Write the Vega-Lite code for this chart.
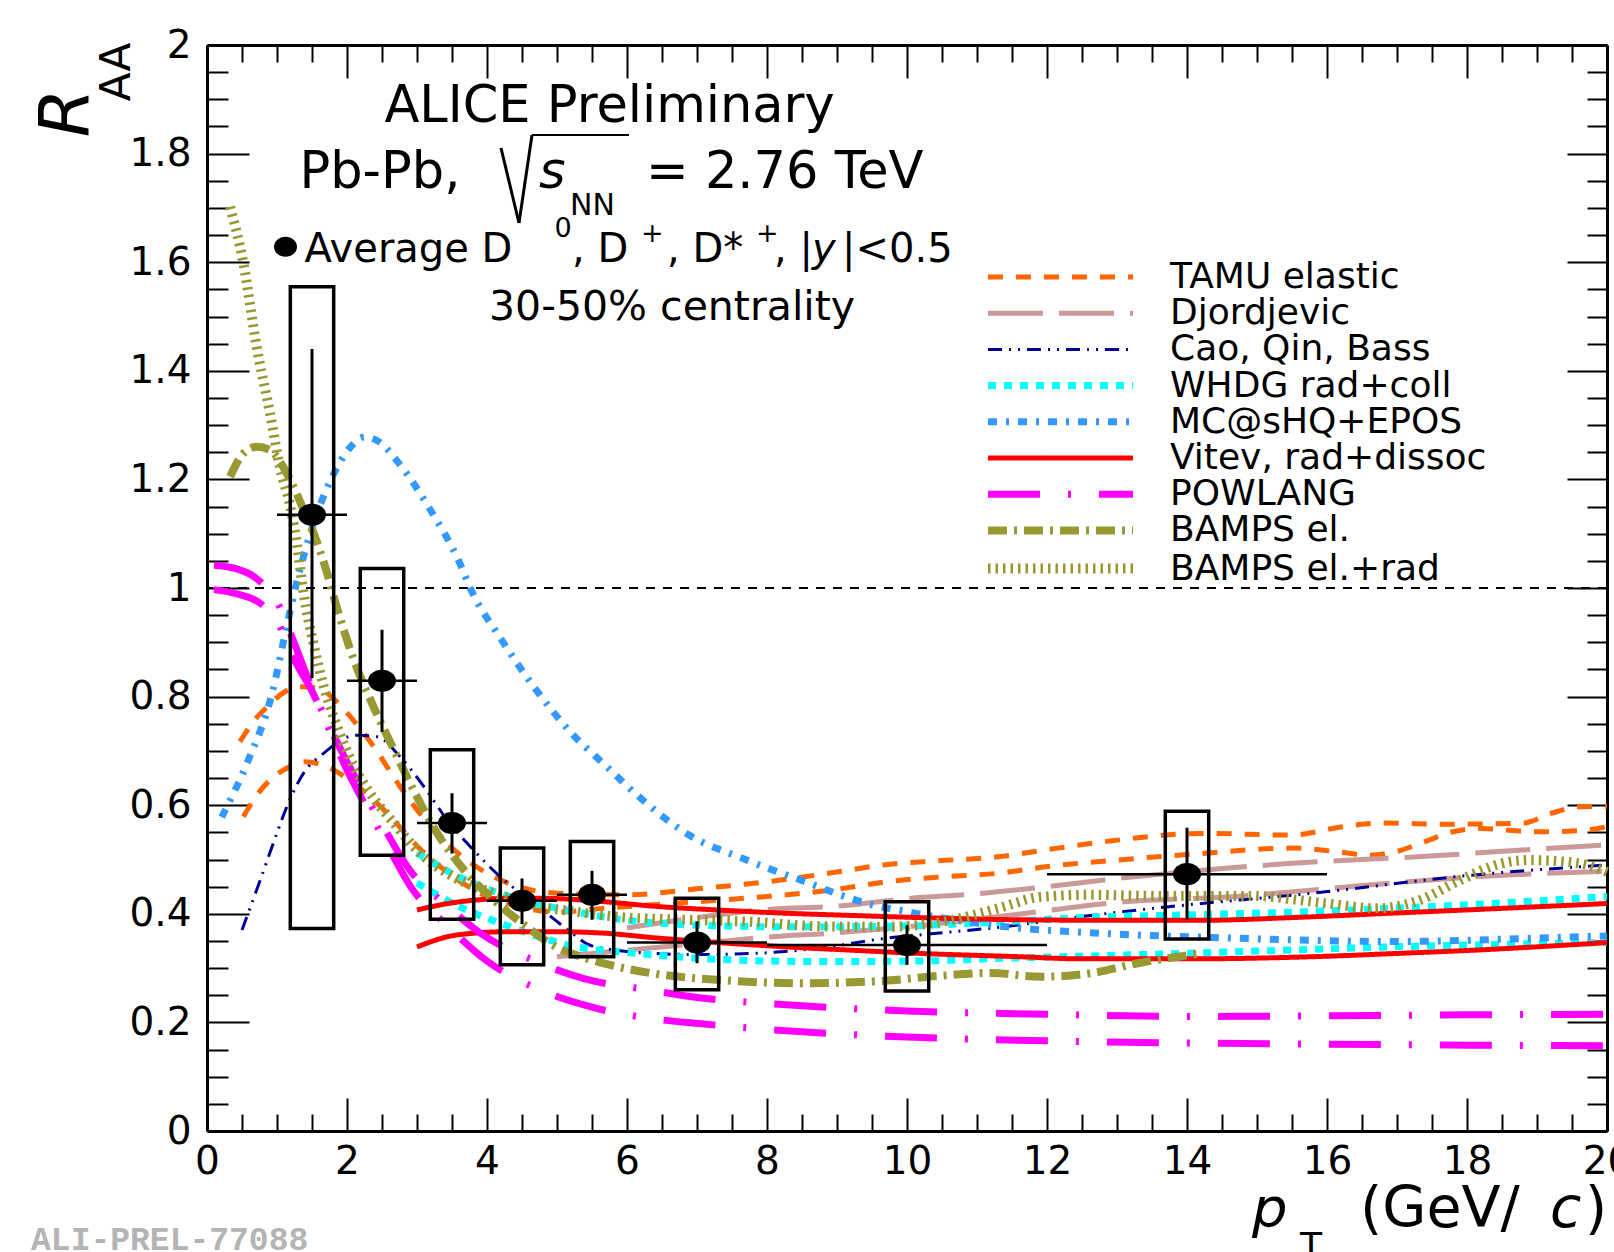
{
  "$schema": "https://vega.github.io/schema/vega-lite/v6.json",
  "width": 1400,
  "height": 1086,
  "autosize": {"type": "none"},
  "padding": {"left": 207, "top": 45, "right": 7, "bottom": 121},
  "background": "white",
  "config": {"view": {"stroke": null}, "font": "DejaVu Sans"},
  "resolve": {"axis": {"x": "independent", "y": "independent"}},
  "datasets": {
    "curves": [
      {"m":"TAMU elastic","c":"u","x":0.47,"y":0.717},{"m":"TAMU elastic","c":"u","x":0.7,"y":0.76},{"m":"TAMU elastic","c":"u","x":0.86,"y":0.781},{"m":"TAMU elastic","c":"u","x":1.1,"y":0.808},{"m":"TAMU elastic","c":"u","x":1.3,"y":0.818},{"m":"TAMU elastic","c":"u","x":1.57,"y":0.816},{"m":"TAMU elastic","c":"u","x":1.8,"y":0.797},{"m":"TAMU elastic","c":"u","x":2.0,"y":0.77},{"m":"TAMU elastic","c":"u","x":2.38,"y":0.708},{"m":"TAMU elastic","c":"u","x":2.76,"y":0.634},{"m":"TAMU elastic","c":"u","x":3.24,"y":0.554},{"m":"TAMU elastic","c":"u","x":3.71,"y":0.499},{"m":"TAMU elastic","c":"u","x":4.29,"y":0.457},{"m":"TAMU elastic","c":"u","x":5.0,"y":0.438},{"m":"TAMU elastic","c":"u","x":6.0,"y":0.435},{"m":"TAMU elastic","c":"u","x":7.0,"y":0.446},{"m":"TAMU elastic","c":"u","x":8.0,"y":0.459},{"m":"TAMU elastic","c":"u","x":9.0,"y":0.477},{"m":"TAMU elastic","c":"u","x":9.66,"y":0.49},{"m":"TAMU elastic","c":"u","x":10.5,"y":0.498},{"m":"TAMU elastic","c":"u","x":11.3,"y":0.505},{"m":"TAMU elastic","c":"u","x":12.1,"y":0.52},{"m":"TAMU elastic","c":"u","x":12.9,"y":0.534},{"m":"TAMU elastic","c":"u","x":14.2,"y":0.548},{"m":"TAMU elastic","c":"u","x":15.5,"y":0.545},{"m":"TAMU elastic","c":"u","x":16.2,"y":0.56},{"m":"TAMU elastic","c":"u","x":16.8,"y":0.567},{"m":"TAMU elastic","c":"u","x":17.7,"y":0.565},{"m":"TAMU elastic","c":"u","x":18.8,"y":0.567},{"m":"TAMU elastic","c":"u","x":19.2,"y":0.585},{"m":"TAMU elastic","c":"u","x":19.6,"y":0.597},{"m":"TAMU elastic","c":"u","x":20,"y":0.598},
      {"m":"TAMU elastic","c":"l","x":0.52,"y":0.579},{"m":"TAMU elastic","c":"l","x":0.75,"y":0.625},{"m":"TAMU elastic","c":"l","x":0.95,"y":0.652},{"m":"TAMU elastic","c":"l","x":1.2,"y":0.672},{"m":"TAMU elastic","c":"l","x":1.4,"y":0.68},{"m":"TAMU elastic","c":"l","x":1.6,"y":0.676},{"m":"TAMU elastic","c":"l","x":1.81,"y":0.665},{"m":"TAMU elastic","c":"l","x":2.1,"y":0.64},{"m":"TAMU elastic","c":"l","x":2.5,"y":0.595},{"m":"TAMU elastic","c":"l","x":3.0,"y":0.525},{"m":"TAMU elastic","c":"l","x":3.5,"y":0.47},{"m":"TAMU elastic","c":"l","x":4.0,"y":0.432},{"m":"TAMU elastic","c":"l","x":4.5,"y":0.412},{"m":"TAMU elastic","c":"l","x":5.0,"y":0.403},{"m":"TAMU elastic","c":"l","x":5.66,"y":0.41},{"m":"TAMU elastic","c":"l","x":6.5,"y":0.418},{"m":"TAMU elastic","c":"l","x":7.3,"y":0.425},{"m":"TAMU elastic","c":"l","x":8.1,"y":0.433},{"m":"TAMU elastic","c":"l","x":9.0,"y":0.445},{"m":"TAMU elastic","c":"l","x":9.7,"y":0.459},{"m":"TAMU elastic","c":"l","x":10.5,"y":0.468},{"m":"TAMU elastic","c":"l","x":11.33,"y":0.475},{"m":"TAMU elastic","c":"l","x":12.0,"y":0.487},{"m":"TAMU elastic","c":"l","x":13.0,"y":0.499},{"m":"TAMU elastic","c":"l","x":14.2,"y":0.511},{"m":"TAMU elastic","c":"l","x":15.5,"y":0.521},{"m":"TAMU elastic","c":"l","x":16.1,"y":0.515},{"m":"TAMU elastic","c":"l","x":16.6,"y":0.508},{"m":"TAMU elastic","c":"l","x":17.0,"y":0.515},{"m":"TAMU elastic","c":"l","x":17.4,"y":0.533},{"m":"TAMU elastic","c":"l","x":17.8,"y":0.551},{"m":"TAMU elastic","c":"l","x":18.2,"y":0.557},{"m":"TAMU elastic","c":"l","x":19.0,"y":0.551},{"m":"TAMU elastic","c":"l","x":19.6,"y":0.553},{"m":"TAMU elastic","c":"l","x":20,"y":0.56},
      {"m":"Djordjevic","c":"u","x":6.0,"y":0.374},{"m":"Djordjevic","c":"u","x":7.0,"y":0.393},{"m":"Djordjevic","c":"u","x":8.0,"y":0.408},{"m":"Djordjevic","c":"u","x":9.0,"y":0.414},{"m":"Djordjevic","c":"u","x":10.0,"y":0.428},{"m":"Djordjevic","c":"u","x":11.0,"y":0.437},{"m":"Djordjevic","c":"u","x":12.0,"y":0.45},{"m":"Djordjevic","c":"u","x":13.0,"y":0.465},{"m":"Djordjevic","c":"u","x":14.3,"y":0.481},{"m":"Djordjevic","c":"u","x":15.5,"y":0.493},{"m":"Djordjevic","c":"u","x":17.3,"y":0.505},{"m":"Djordjevic","c":"u","x":18.5,"y":0.515},{"m":"Djordjevic","c":"u","x":20,"y":0.527},
      {"m":"Djordjevic","c":"l","x":5.0,"y":0.321},{"m":"Djordjevic","c":"l","x":6.0,"y":0.333},{"m":"Djordjevic","c":"l","x":7.0,"y":0.345},{"m":"Djordjevic","c":"l","x":8.0,"y":0.357},{"m":"Djordjevic","c":"l","x":9.0,"y":0.365},{"m":"Djordjevic","c":"l","x":10.0,"y":0.376},{"m":"Djordjevic","c":"l","x":11.5,"y":0.398},{"m":"Djordjevic","c":"l","x":13.1,"y":0.422},{"m":"Djordjevic","c":"l","x":14.7,"y":0.432},{"m":"Djordjevic","c":"l","x":16.5,"y":0.452},{"m":"Djordjevic","c":"l","x":18.5,"y":0.471},{"m":"Djordjevic","c":"l","x":20,"y":0.478},
      {"m":"Cao, Qin, Bass","c":"u","x":0.5,"y":0.37},{"m":"Cao, Qin, Bass","c":"u","x":0.76,"y":0.462},{"m":"Cao, Qin, Bass","c":"u","x":1.0,"y":0.549},{"m":"Cao, Qin, Bass","c":"u","x":1.14,"y":0.597},{"m":"Cao, Qin, Bass","c":"u","x":1.38,"y":0.659},{"m":"Cao, Qin, Bass","c":"u","x":1.67,"y":0.696},{"m":"Cao, Qin, Bass","c":"u","x":2.14,"y":0.729},{"m":"Cao, Qin, Bass","c":"u","x":2.43,"y":0.726},{"m":"Cao, Qin, Bass","c":"u","x":2.76,"y":0.689},{"m":"Cao, Qin, Bass","c":"u","x":3.1,"y":0.634},{"m":"Cao, Qin, Bass","c":"u","x":3.43,"y":0.573},{"m":"Cao, Qin, Bass","c":"u","x":3.81,"y":0.517},{"m":"Cao, Qin, Bass","c":"u","x":4.19,"y":0.468},{"m":"Cao, Qin, Bass","c":"u","x":4.67,"y":0.42},{"m":"Cao, Qin, Bass","c":"u","x":5.14,"y":0.372},{"m":"Cao, Qin, Bass","c":"u","x":5.5,"y":0.341},{"m":"Cao, Qin, Bass","c":"u","x":6.38,"y":0.327},{"m":"Cao, Qin, Bass","c":"u","x":7.0,"y":0.325},{"m":"Cao, Qin, Bass","c":"u","x":7.8,"y":0.327},{"m":"Cao, Qin, Bass","c":"u","x":8.76,"y":0.337},{"m":"Cao, Qin, Bass","c":"u","x":9.7,"y":0.355},{"m":"Cao, Qin, Bass","c":"u","x":10.42,"y":0.364},{"m":"Cao, Qin, Bass","c":"u","x":11.37,"y":0.376},{"m":"Cao, Qin, Bass","c":"u","x":12.5,"y":0.395},{"m":"Cao, Qin, Bass","c":"u","x":13.74,"y":0.413},{"m":"Cao, Qin, Bass","c":"u","x":15.8,"y":0.438},{"m":"Cao, Qin, Bass","c":"u","x":18.05,"y":0.471},{"m":"Cao, Qin, Bass","c":"u","x":20,"y":0.49},
      {"m":"WHDG rad+coll","c":"u","x":3.0,"y":0.512},{"m":"WHDG rad+coll","c":"u","x":3.33,"y":0.486},{"m":"WHDG rad+coll","c":"u","x":3.7,"y":0.462},{"m":"WHDG rad+coll","c":"u","x":4.04,"y":0.444},{"m":"WHDG rad+coll","c":"u","x":4.5,"y":0.425},{"m":"WHDG rad+coll","c":"u","x":5.3,"y":0.403},{"m":"WHDG rad+coll","c":"u","x":6.0,"y":0.388},{"m":"WHDG rad+coll","c":"u","x":6.85,"y":0.38},{"m":"WHDG rad+coll","c":"u","x":8.28,"y":0.376},{"m":"WHDG rad+coll","c":"u","x":9.7,"y":0.377},{"m":"WHDG rad+coll","c":"u","x":11.35,"y":0.385},{"m":"WHDG rad+coll","c":"u","x":12.5,"y":0.393},{"m":"WHDG rad+coll","c":"u","x":14.0,"y":0.398},{"m":"WHDG rad+coll","c":"u","x":15.5,"y":0.403},{"m":"WHDG rad+coll","c":"u","x":16.9,"y":0.41},{"m":"WHDG rad+coll","c":"u","x":18.5,"y":0.42},{"m":"WHDG rad+coll","c":"u","x":20,"y":0.432},
      {"m":"WHDG rad+coll","c":"l","x":3.0,"y":0.457},{"m":"WHDG rad+coll","c":"l","x":3.61,"y":0.413},{"m":"WHDG rad+coll","c":"l","x":4.29,"y":0.378},{"m":"WHDG rad+coll","c":"l","x":4.8,"y":0.355},{"m":"WHDG rad+coll","c":"l","x":5.33,"y":0.338},{"m":"WHDG rad+coll","c":"l","x":5.9,"y":0.33},{"m":"WHDG rad+coll","c":"l","x":7.33,"y":0.316},{"m":"WHDG rad+coll","c":"l","x":8.76,"y":0.312},{"m":"WHDG rad+coll","c":"l","x":10.19,"y":0.313},{"m":"WHDG rad+coll","c":"l","x":11.35,"y":0.318},{"m":"WHDG rad+coll","c":"l","x":12.5,"y":0.322},{"m":"WHDG rad+coll","c":"l","x":14.7,"y":0.33},{"m":"WHDG rad+coll","c":"l","x":16.9,"y":0.339},{"m":"WHDG rad+coll","c":"l","x":20,"y":0.347},
      {"m":"MC@sHQ+EPOS","c":"u","x":0.21,"y":0.578},{"m":"MC@sHQ+EPOS","c":"u","x":0.57,"y":0.677},{"m":"MC@sHQ+EPOS","c":"u","x":0.93,"y":0.806},{"m":"MC@sHQ+EPOS","c":"u","x":1.14,"y":0.93},{"m":"MC@sHQ+EPOS","c":"u","x":1.3,"y":1.02},{"m":"MC@sHQ+EPOS","c":"u","x":1.5,"y":1.11},{"m":"MC@sHQ+EPOS","c":"u","x":1.79,"y":1.205},{"m":"MC@sHQ+EPOS","c":"u","x":2.04,"y":1.258},{"m":"MC@sHQ+EPOS","c":"u","x":2.25,"y":1.278},{"m":"MC@sHQ+EPOS","c":"u","x":2.45,"y":1.27},{"m":"MC@sHQ+EPOS","c":"u","x":2.74,"y":1.23},{"m":"MC@sHQ+EPOS","c":"u","x":3.19,"y":1.144},{"m":"MC@sHQ+EPOS","c":"u","x":3.61,"y":1.046},{"m":"MC@sHQ+EPOS","c":"u","x":3.76,"y":1.0},{"m":"MC@sHQ+EPOS","c":"u","x":4.19,"y":0.908},{"m":"MC@sHQ+EPOS","c":"u","x":4.67,"y":0.818},{"m":"MC@sHQ+EPOS","c":"u","x":5.19,"y":0.735},{"m":"MC@sHQ+EPOS","c":"u","x":5.71,"y":0.671},{"m":"MC@sHQ+EPOS","c":"u","x":6.14,"y":0.619},{"m":"MC@sHQ+EPOS","c":"u","x":6.85,"y":0.548},{"m":"MC@sHQ+EPOS","c":"u","x":7.71,"y":0.499},{"m":"MC@sHQ+EPOS","c":"u","x":8.61,"y":0.456},{"m":"MC@sHQ+EPOS","c":"u","x":9.04,"y":0.435},{"m":"MC@sHQ+EPOS","c":"u","x":9.52,"y":0.416},{"m":"MC@sHQ+EPOS","c":"u","x":10.0,"y":0.404},{"m":"MC@sHQ+EPOS","c":"u","x":10.66,"y":0.389},{"m":"MC@sHQ+EPOS","c":"u","x":11.42,"y":0.376},{"m":"MC@sHQ+EPOS","c":"u","x":12.5,"y":0.366},{"m":"MC@sHQ+EPOS","c":"u","x":14.7,"y":0.355},{"m":"MC@sHQ+EPOS","c":"u","x":16.9,"y":0.349},{"m":"MC@sHQ+EPOS","c":"u","x":19.7,"y":0.358},{"m":"MC@sHQ+EPOS","c":"u","x":20,"y":0.359},
      {"m":"Vitev, rad+dissoc","c":"u","x":3.0,"y":0.407},{"m":"Vitev, rad+dissoc","c":"u","x":3.4,"y":0.418},{"m":"Vitev, rad+dissoc","c":"u","x":3.81,"y":0.425},{"m":"Vitev, rad+dissoc","c":"u","x":4.47,"y":0.429},{"m":"Vitev, rad+dissoc","c":"u","x":5.0,"y":0.428},{"m":"Vitev, rad+dissoc","c":"u","x":5.7,"y":0.422},{"m":"Vitev, rad+dissoc","c":"u","x":6.38,"y":0.414},{"m":"Vitev, rad+dissoc","c":"u","x":7.3,"y":0.407},{"m":"Vitev, rad+dissoc","c":"u","x":8.28,"y":0.401},{"m":"Vitev, rad+dissoc","c":"u","x":9.2,"y":0.397},{"m":"Vitev, rad+dissoc","c":"u","x":10.19,"y":0.393},{"m":"Vitev, rad+dissoc","c":"u","x":11.6,"y":0.389},{"m":"Vitev, rad+dissoc","c":"u","x":13.0,"y":0.388},{"m":"Vitev, rad+dissoc","c":"u","x":14.2,"y":0.388},{"m":"Vitev, rad+dissoc","c":"u","x":15.5,"y":0.393},{"m":"Vitev, rad+dissoc","c":"u","x":16.9,"y":0.401},{"m":"Vitev, rad+dissoc","c":"u","x":18.5,"y":0.41},{"m":"Vitev, rad+dissoc","c":"u","x":20,"y":0.419},
      {"m":"Vitev, rad+dissoc","c":"l","x":3.0,"y":0.339},{"m":"Vitev, rad+dissoc","c":"l","x":3.57,"y":0.361},{"m":"Vitev, rad+dissoc","c":"l","x":4.29,"y":0.367},{"m":"Vitev, rad+dissoc","c":"l","x":5.0,"y":0.367},{"m":"Vitev, rad+dissoc","c":"l","x":5.71,"y":0.364},{"m":"Vitev, rad+dissoc","c":"l","x":6.38,"y":0.356},{"m":"Vitev, rad+dissoc","c":"l","x":7.3,"y":0.347},{"m":"Vitev, rad+dissoc","c":"l","x":8.28,"y":0.339},{"m":"Vitev, rad+dissoc","c":"l","x":9.2,"y":0.333},{"m":"Vitev, rad+dissoc","c":"l","x":10.19,"y":0.327},{"m":"Vitev, rad+dissoc","c":"l","x":11.6,"y":0.321},{"m":"Vitev, rad+dissoc","c":"l","x":12.5,"y":0.317},{"m":"Vitev, rad+dissoc","c":"l","x":14.0,"y":0.317},{"m":"Vitev, rad+dissoc","c":"l","x":15.8,"y":0.321},{"m":"Vitev, rad+dissoc","c":"l","x":17.0,"y":0.327},{"m":"Vitev, rad+dissoc","c":"l","x":18.1,"y":0.333},{"m":"Vitev, rad+dissoc","c":"l","x":20,"y":0.347},
      {"m":"POWLANG","c":"u","x":0.1,"y":1.042},{"m":"POWLANG","c":"u","x":0.4,"y":1.036},{"m":"POWLANG","c":"u","x":0.76,"y":1.012},{"m":"POWLANG","c":"u","x":1.0,"y":0.975},{"m":"POWLANG","c":"u","x":1.15,"y":0.93},{"m":"POWLANG","c":"u","x":1.5,"y":0.815},{"m":"POWLANG","c":"u","x":2.0,"y":0.68},{"m":"POWLANG","c":"u","x":2.5,"y":0.565},{"m":"POWLANG","c":"u","x":2.9,"y":0.48},{"m":"POWLANG","c":"u","x":3.4,"y":0.418},{"m":"POWLANG","c":"u","x":3.9,"y":0.365},{"m":"POWLANG","c":"u","x":4.65,"y":0.315},{"m":"POWLANG","c":"u","x":5.4,"y":0.28},{"m":"POWLANG","c":"u","x":6.3,"y":0.26},{"m":"POWLANG","c":"u","x":7.0,"y":0.246},{"m":"POWLANG","c":"u","x":8.0,"y":0.235},{"m":"POWLANG","c":"u","x":9.0,"y":0.227},{"m":"POWLANG","c":"u","x":10.0,"y":0.221},{"m":"POWLANG","c":"u","x":12.0,"y":0.215},{"m":"POWLANG","c":"u","x":14.0,"y":0.211},{"m":"POWLANG","c":"u","x":16.0,"y":0.212},{"m":"POWLANG","c":"u","x":18.0,"y":0.214},{"m":"POWLANG","c":"u","x":20,"y":0.215},
      {"m":"POWLANG","c":"l","x":0.1,"y":0.997},{"m":"POWLANG","c":"l","x":0.4,"y":0.99},{"m":"POWLANG","c":"l","x":0.79,"y":0.969},{"m":"POWLANG","c":"l","x":1.0,"y":0.94},{"m":"POWLANG","c":"l","x":1.2,"y":0.88},{"m":"POWLANG","c":"l","x":1.5,"y":0.81},{"m":"POWLANG","c":"l","x":2.0,"y":0.665},{"m":"POWLANG","c":"l","x":2.5,"y":0.545},{"m":"POWLANG","c":"l","x":2.93,"y":0.446},{"m":"POWLANG","c":"l","x":3.45,"y":0.376},{"m":"POWLANG","c":"l","x":4.0,"y":0.313},{"m":"POWLANG","c":"l","x":4.7,"y":0.263},{"m":"POWLANG","c":"l","x":5.5,"y":0.228},{"m":"POWLANG","c":"l","x":6.3,"y":0.208},{"m":"POWLANG","c":"l","x":7.1,"y":0.197},{"m":"POWLANG","c":"l","x":8.0,"y":0.187},{"m":"POWLANG","c":"l","x":9.0,"y":0.179},{"m":"POWLANG","c":"l","x":10.0,"y":0.173},{"m":"POWLANG","c":"l","x":11.0,"y":0.169},{"m":"POWLANG","c":"l","x":12.0,"y":0.166},{"m":"POWLANG","c":"l","x":14.0,"y":0.162},{"m":"POWLANG","c":"l","x":16.0,"y":0.16},{"m":"POWLANG","c":"l","x":18.0,"y":0.158},{"m":"POWLANG","c":"l","x":20,"y":0.157},
      {"m":"BAMPS el.","c":"u","x":0.33,"y":1.205},{"m":"BAMPS el.","c":"u","x":0.52,"y":1.248},{"m":"BAMPS el.","c":"u","x":0.71,"y":1.26},{"m":"BAMPS el.","c":"u","x":0.9,"y":1.254},{"m":"BAMPS el.","c":"u","x":1.14,"y":1.211},{"m":"BAMPS el.","c":"u","x":1.38,"y":1.144},{"m":"BAMPS el.","c":"u","x":1.57,"y":1.085},{"m":"BAMPS el.","c":"u","x":1.71,"y":1.03},{"m":"BAMPS el.","c":"u","x":1.86,"y":0.962},{"m":"BAMPS el.","c":"u","x":2.1,"y":0.867},{"m":"BAMPS el.","c":"u","x":2.38,"y":0.781},{"m":"BAMPS el.","c":"u","x":2.67,"y":0.702},{"m":"BAMPS el.","c":"u","x":2.95,"y":0.628},{"m":"BAMPS el.","c":"u","x":3.29,"y":0.548},{"m":"BAMPS el.","c":"u","x":3.67,"y":0.481},{"m":"BAMPS el.","c":"u","x":4.1,"y":0.425},{"m":"BAMPS el.","c":"u","x":4.57,"y":0.376},{"m":"BAMPS el.","c":"u","x":5.0,"y":0.338},{"m":"BAMPS el.","c":"u","x":5.42,"y":0.318},{"m":"BAMPS el.","c":"u","x":6.38,"y":0.29},{"m":"BAMPS el.","c":"u","x":7.33,"y":0.278},{"m":"BAMPS el.","c":"u","x":8.52,"y":0.272},{"m":"BAMPS el.","c":"u","x":9.71,"y":0.277},{"m":"BAMPS el.","c":"u","x":10.5,"y":0.286},{"m":"BAMPS el.","c":"u","x":11.2,"y":0.291},{"m":"BAMPS el.","c":"u","x":11.9,"y":0.284},{"m":"BAMPS el.","c":"u","x":12.6,"y":0.29},{"m":"BAMPS el.","c":"u","x":13.3,"y":0.309},{"m":"BAMPS el.","c":"u","x":14.2,"y":0.327},
      {"m":"BAMPS el.+rad","c":"u","x":0.33,"y":1.702},{"m":"BAMPS el.+rad","c":"u","x":0.52,"y":1.598},{"m":"BAMPS el.+rad","c":"u","x":0.71,"y":1.444},{"m":"BAMPS el.+rad","c":"u","x":0.9,"y":1.322},{"m":"BAMPS el.+rad","c":"u","x":1.04,"y":1.223},{"m":"BAMPS el.+rad","c":"u","x":1.19,"y":1.15},{"m":"BAMPS el.+rad","c":"u","x":1.29,"y":1.076},{"m":"BAMPS el.+rad","c":"u","x":1.38,"y":0.99},{"m":"BAMPS el.+rad","c":"u","x":1.52,"y":0.898},{"m":"BAMPS el.+rad","c":"u","x":1.67,"y":0.818},{"m":"BAMPS el.+rad","c":"u","x":1.86,"y":0.745},{"m":"BAMPS el.+rad","c":"u","x":2.1,"y":0.671},{"m":"BAMPS el.+rad","c":"u","x":2.33,"y":0.622},{"m":"BAMPS el.+rad","c":"u","x":2.67,"y":0.567},{"m":"BAMPS el.+rad","c":"u","x":3.05,"y":0.511},{"m":"BAMPS el.+rad","c":"u","x":3.52,"y":0.468},{"m":"BAMPS el.+rad","c":"u","x":4.1,"y":0.438},{"m":"BAMPS el.+rad","c":"u","x":4.76,"y":0.413},{"m":"BAMPS el.+rad","c":"u","x":5.2,"y":0.405},{"m":"BAMPS el.+rad","c":"u","x":5.9,"y":0.394},{"m":"BAMPS el.+rad","c":"u","x":6.85,"y":0.389},{"m":"BAMPS el.+rad","c":"u","x":7.8,"y":0.385},{"m":"BAMPS el.+rad","c":"u","x":8.76,"y":0.377},{"m":"BAMPS el.+rad","c":"u","x":9.7,"y":0.376},{"m":"BAMPS el.+rad","c":"u","x":10.66,"y":0.389},{"m":"BAMPS el.+rad","c":"u","x":11.3,"y":0.41},{"m":"BAMPS el.+rad","c":"u","x":11.9,"y":0.431},{"m":"BAMPS el.+rad","c":"u","x":12.6,"y":0.435},{"m":"BAMPS el.+rad","c":"u","x":13.5,"y":0.433},{"m":"BAMPS el.+rad","c":"u","x":14.9,"y":0.433},{"m":"BAMPS el.+rad","c":"u","x":16.0,"y":0.419},{"m":"BAMPS el.+rad","c":"u","x":16.7,"y":0.41},{"m":"BAMPS el.+rad","c":"u","x":17.3,"y":0.424},{"m":"BAMPS el.+rad","c":"u","x":17.9,"y":0.462},{"m":"BAMPS el.+rad","c":"u","x":18.5,"y":0.493},{"m":"BAMPS el.+rad","c":"u","x":18.9,"y":0.499},{"m":"BAMPS el.+rad","c":"u","x":19.6,"y":0.493},{"m":"BAMPS el.+rad","c":"u","x":20,"y":0.477}
    ],
    "points": [
      {"x":1.5,"y":1.135,"xl":1,"xh":2,"sl":0.834,"sh":1.44,"bl":0.373,"bh":1.555,"bxl":1.19,"bxh":1.81},
      {"x":2.5,"y":0.829,"xl":2,"xh":3,"sl":0.735,"sh":0.923,"bl":0.508,"bh":1.036,"bxl":2.19,"bxh":2.81},
      {"x":3.5,"y":0.567,"xl":3,"xh":4,"sl":0.511,"sh":0.622,"bl":0.39,"bh":0.702,"bxl":3.19,"bxh":3.81},
      {"x":4.5,"y":0.424,"xl":4,"xh":5,"sl":0.381,"sh":0.465,"bl":0.306,"bh":0.521,"bxl":4.19,"bxh":4.81},
      {"x":5.5,"y":0.435,"xl":5,"xh":6,"sl":0.389,"sh":0.479,"bl":0.321,"bh":0.533,"bxl":5.19,"bxh":5.81},
      {"x":7,"y":0.347,"xl":6,"xh":8,"sl":0.309,"sh":0.386,"bl":0.26,"bh":0.4285,"bxl":6.69,"bxh":7.31},
      {"x":10,"y":0.3425,"xl":8,"xh":12,"sl":0.306,"sh":0.379,"bl":0.258,"bh":0.4223,"bxl":9.69,"bxh":10.31},
      {"x":14,"y":0.473,"xl":12,"xh":16,"sl":0.389,"sh":0.5586,"bl":0.3536,"bh":0.589,"bxl":13.69,"bxh":14.31}
    ]
  },
  "layer": [
    {
      "data": {"values": [{}]},
      "mark": {"type": "rule", "color": "black", "strokeWidth": 2, "strokeDash": [9, 8]},
      "encoding": {"y": {"datum": 1, "type": "quantitative", "scale": {"domain": [0, 2], "nice": false, "zero": false}, "axis": null}}
    },
    {
      "data": {"name": "curves"},
      "mark": {"type": "line", "interpolate": "monotone", "strokeCap": "butt"},
      "encoding": {
        "x": {"field": "x", "type": "quantitative", "scale": {"domain": [0, 20], "nice": false, "zero": false},
              "axis": {"orient": "bottom", "values": [0,2,4,6,8,10,12,14,16,18,20], "format": "d", "tickSize": -33, "tickWidth": 2, "tickColor": "black", "domain": true, "domainColor": "black", "domainWidth": 3, "labels": true, "labelFont": "DejaVu Sans", "labelFontSize": 39, "labelColor": "black", "labelPadding": 44, "labelFlush": false, "labelOverlap": false, "grid": false, "title": null}},
        "y": {"field": "y", "type": "quantitative", "scale": {"domain": [0, 2], "nice": false, "zero": false},
              "axis": {"orient": "left", "values": [0,0.2,0.4,0.6,0.8,1,1.2,1.4,1.6,1.8,2], "format": "~g", "tickSize": -42, "tickWidth": 2, "tickColor": "black", "domain": true, "domainColor": "black", "domainWidth": 3, "labels": true, "labelFont": "DejaVu Sans", "labelFontSize": 39, "labelColor": "black", "labelPadding": 58, "labelOverlap": false, "grid": false, "title": null}},
        "color": {"field": "m", "type": "nominal",
                  "scale": {"domain": ["TAMU elastic","Djordjevic","Cao, Qin, Bass","WHDG rad+coll","MC@sHQ+EPOS","Vitev, rad+dissoc","POWLANG","BAMPS el.","BAMPS el.+rad"],
                            "range": ["#ff6600","#cc9999","#000099","#00ffff","#3399ff","#ff0000","#ff00ff","#999933","#999933"]},
                  "legend": {"title": null, "orient": "none", "legendX": 835.5, "legendY": 214, "symbolType": "M-5.577,0H5.577", "symbolSize": 676,
                             "symbolStrokeWidth": {"expr": "datum.value === 'Cao, Qin, Bass' ? 3 : datum.value === 'WHDG rad+coll' ? 7 : datum.value === 'MC@sHQ+EPOS' ? 7 : datum.value === 'POWLANG' ? 7 : datum.value === 'BAMPS el.' ? 8 : datum.value === 'BAMPS el.+rad' ? 10 : 5"},
                             "labelFont": "DejaVu Sans", "labelFontSize": 36, "labelColor": "black", "labelOffset": 91.5, "labelLimit": 0, "rowPadding": 0.2, "padding": 0}},
        "strokeDash": {"field": "m", "type": "nominal",
                       "scale": {"domain": ["TAMU elastic","Djordjevic","Cao, Qin, Bass","WHDG rad+coll","MC@sHQ+EPOS","Vitev, rad+dissoc","POWLANG","BAMPS el.","BAMPS el.+rad"],
                                 "range": [[15,13],[55,16],[14,7,2,7,2,7],[8,8],[9,9,3,9],[1,0],[52,28,3,28],[19,7,3,7],[2.5,5]]}},
        "strokeWidth": {"condition": [
            {"test": "datum.m === 'Cao, Qin, Bass'", "value": 3},
            {"test": "datum.m === 'WHDG rad+coll'", "value": 7},
            {"test": "datum.m === 'MC@sHQ+EPOS'", "value": 7},
            {"test": "datum.m === 'POWLANG'", "value": 7},
            {"test": "datum.m === 'BAMPS el.'", "value": 8},
            {"test": "datum.m === 'BAMPS el.+rad'", "value": 10}
          ], "value": 5},
        "detail": {"field": "c", "type": "nominal"}
      }
    },
    {
      "data": {"name": "points"},
      "mark": {"type": "rect", "filled": false, "stroke": "black", "strokeWidth": 3.5},
      "encoding": {
        "x": {"field": "bxl", "type": "quantitative", "scale": {"domain": [0, 20], "nice": false, "zero": false},
              "axis": {"orient": "bottom", "values": [0.5,1,1.5,2.5,3,3.5,4.5,5,5.5,6.5,7,7.5,8.5,9,9.5,10.5,11,11.5,12.5,13,13.5,14.5,15,15.5,16.5,17,17.5,18.5,19,19.5], "tickSize": -17, "tickWidth": 2, "tickColor": "black", "domain": false, "labels": false, "grid": false, "title": null}},
        "x2": {"field": "bxh"},
        "y": {"field": "bl", "type": "quantitative", "scale": {"domain": [0, 2], "nice": false, "zero": false},
              "axis": {"orient": "left", "values": [0.05,0.1,0.15,0.25,0.3,0.35,0.45,0.5,0.55,0.65,0.7,0.75,0.85,0.9,0.95,1.05,1.1,1.15,1.25,1.3,1.35,1.45,1.5,1.55,1.65,1.7,1.75,1.85,1.9,1.95], "tickSize": -21, "tickWidth": 2, "tickColor": "black", "domain": false, "labels": false, "grid": false, "title": null}},
        "y2": {"field": "bh"}
      }
    },
    {
      "data": {"name": "points"},
      "mark": {"type": "rule", "color": "black", "strokeWidth": 2.5},
      "encoding": {
        "x": {"field": "xl", "type": "quantitative", "scale": {"domain": [0, 20], "nice": false, "zero": false},
              "axis": {"orient": "top", "values": [0,2,4,6,8,10,12,14,16,18,20], "tickSize": -33, "tickWidth": 2, "tickColor": "black", "domain": true, "domainColor": "black", "domainWidth": 3, "labels": false, "grid": false, "title": null}},
        "x2": {"field": "xh"},
        "y": {"field": "y", "type": "quantitative", "scale": {"domain": [0, 2], "nice": false, "zero": false},
              "axis": {"orient": "right", "values": [0,0.2,0.4,0.6,0.8,1,1.2,1.4,1.6,1.8,2], "tickSize": -40, "tickWidth": 2, "tickColor": "black", "domain": true, "domainColor": "black", "domainWidth": 3, "labels": false, "grid": false, "title": null}}
      }
    },
    {
      "data": {"name": "points"},
      "mark": {"type": "rule", "color": "black", "strokeWidth": 3},
      "encoding": {
        "x": {"field": "x", "type": "quantitative", "scale": {"domain": [0, 20], "nice": false, "zero": false},
              "axis": {"orient": "top", "values": [0.5,1,1.5,2.5,3,3.5,4.5,5,5.5,6.5,7,7.5,8.5,9,9.5,10.5,11,11.5,12.5,13,13.5,14.5,15,15.5,16.5,17,17.5,18.5,19,19.5], "tickSize": -17, "tickWidth": 2, "tickColor": "black", "domain": false, "labels": false, "grid": false, "title": null}},
        "y": {"field": "sl", "type": "quantitative", "scale": {"domain": [0, 2], "nice": false, "zero": false},
              "axis": {"orient": "right", "values": [0.05,0.1,0.15,0.25,0.3,0.35,0.45,0.5,0.55,0.65,0.7,0.75,0.85,0.9,0.95,1.05,1.1,1.15,1.25,1.3,1.35,1.45,1.5,1.55,1.65,1.7,1.75,1.85,1.9,1.95], "tickSize": -20, "tickWidth": 2, "tickColor": "black", "domain": false, "labels": false, "grid": false, "title": null}},
        "y2": {"field": "sh"}
      }
    },
    {
      "data": {"name": "points"},
      "mark": {"type": "point", "shape": "M-1,0A1,0.79,0,1,0,1,0A1,0.79,0,1,0,-1,0Z", "filled": true, "color": "black", "opacity": 1, "size": 784},
      "encoding": {
        "x": {"field": "x", "type": "quantitative", "scale": {"domain": [0, 20], "nice": false, "zero": false}, "axis": null},
        "y": {"field": "y", "type": "quantitative", "scale": {"domain": [0, 2], "nice": false, "zero": false}, "axis": null}
      }
    },
    {
      "data": {"values": [{}]},
      "mark": {"type": "point", "shape": "M-1,0A1,0.87,0,1,0,1,0A1,0.87,0,1,0,-1,0Z", "filled": true, "color": "black", "opacity": 1, "size": 529},
      "encoding": {"x": {"datum": 1.1214, "type": "quantitative", "axis": null}, "y": {"datum": 1.6285, "type": "quantitative", "axis": null}}
    },
    {
      "data": {"values": [{}]},
      "mark": {"type": "rule", "color": "black", "strokeWidth": 3},
      "encoding": {"x": {"datum": 4.2, "type": "quantitative", "axis": null}, "y": {"datum": 1.8103, "type": "quantitative", "axis": null}, "x2": {"datum": 4.457}, "y2": {"datum": 1.6722}}
    },
    {
      "data": {"values": [{}]},
      "mark": {"type": "rule", "color": "black", "strokeWidth": 3},
      "encoding": {"x": {"datum": 4.457, "type": "quantitative", "axis": null}, "y": {"datum": 1.6722, "type": "quantitative", "axis": null}, "x2": {"datum": 4.643}, "y2": {"datum": 1.8343}}
    },
    {
      "data": {"values": [{}]},
      "mark": {"type": "rule", "color": "black", "strokeWidth": 2},
      "encoding": {"x": {"datum": 4.643, "type": "quantitative", "axis": null}, "y": {"datum": 1.8343, "type": "quantitative", "axis": null}, "x2": {"datum": 6.029}, "y2": {"datum": 1.8343}}
    },
    {"data": {"values": [{}]}, "mark": {"type": "text", "text": "ALICE Preliminary", "font": "DejaVu Sans", "fontSize": 51, "align": "center", "baseline": "alphabetic", "color": "black"},
     "encoding": {"x": {"datum": 5.751, "type": "quantitative", "axis": null}, "y": {"datum": 1.8573, "type": "quantitative", "axis": null}}},
    {"data": {"values": [{}]}, "mark": {"type": "text", "text": "Pb-Pb,", "font": "DejaVu Sans", "fontSize": 51, "align": "left", "baseline": "alphabetic", "color": "black"},
     "encoding": {"x": {"datum": 1.321, "type": "quantitative", "axis": null}, "y": {"datum": 1.7366, "type": "quantitative", "axis": null}}},
    {"data": {"values": [{}]}, "mark": {"type": "text", "text": "s", "font": "DejaVu Sans", "fontStyle": "italic", "fontSize": 51, "align": "left", "baseline": "alphabetic", "color": "black"},
     "encoding": {"x": {"datum": 4.743, "type": "quantitative", "axis": null}, "y": {"datum": 1.7366, "type": "quantitative", "axis": null}}},
    {"data": {"values": [{}]}, "mark": {"type": "text", "text": "NN", "font": "DejaVu Sans", "fontSize": 30, "align": "left", "baseline": "alphabetic", "color": "black"},
     "encoding": {"x": {"datum": 5.186, "type": "quantitative", "axis": null}, "y": {"datum": 1.6869, "type": "quantitative", "axis": null}}},
    {"data": {"values": [{}]}, "mark": {"type": "text", "text": "= 2.76 TeV", "font": "DejaVu Sans", "fontSize": 51, "align": "left", "baseline": "alphabetic", "color": "black"},
     "encoding": {"x": {"datum": 6.271, "type": "quantitative", "axis": null}, "y": {"datum": 1.7366, "type": "quantitative", "axis": null}}},
    {"data": {"values": [{}]}, "mark": {"type": "text", "text": "Average D", "font": "DejaVu Sans", "fontSize": 40, "align": "left", "baseline": "alphabetic", "color": "black"},
     "encoding": {"x": {"datum": 1.394, "type": "quantitative", "axis": null}, "y": {"datum": 1.6009, "type": "quantitative", "axis": null}}},
    {"data": {"values": [{}]}, "mark": {"type": "text", "text": "0", "font": "DejaVu Sans", "fontSize": 27, "align": "left", "baseline": "alphabetic", "color": "black"},
     "encoding": {"x": {"datum": 4.966, "type": "quantitative", "axis": null}, "y": {"datum": 1.647, "type": "quantitative", "axis": null}}},
    {"data": {"values": [{}]}, "mark": {"type": "text", "text": ", D", "font": "DejaVu Sans", "fontSize": 40, "align": "left", "baseline": "alphabetic", "color": "black"},
     "encoding": {"x": {"datum": 5.214, "type": "quantitative", "axis": null}, "y": {"datum": 1.6009, "type": "quantitative", "axis": null}}},
    {"data": {"values": [{}]}, "mark": {"type": "text", "text": "+", "font": "DejaVu Sans", "fontSize": 27, "align": "left", "baseline": "alphabetic", "color": "black"},
     "encoding": {"x": {"datum": 6.2, "type": "quantitative", "axis": null}, "y": {"datum": 1.6378, "type": "quantitative", "axis": null}}},
    {"data": {"values": [{}]}, "mark": {"type": "text", "text": ", D*", "font": "DejaVu Sans", "fontSize": 40, "align": "left", "baseline": "alphabetic", "color": "black"},
     "encoding": {"x": {"datum": 6.571, "type": "quantitative", "axis": null}, "y": {"datum": 1.6009, "type": "quantitative", "axis": null}}},
    {"data": {"values": [{}]}, "mark": {"type": "text", "text": "+", "font": "DejaVu Sans", "fontSize": 27, "align": "left", "baseline": "alphabetic", "color": "black"},
     "encoding": {"x": {"datum": 7.843, "type": "quantitative", "axis": null}, "y": {"datum": 1.6378, "type": "quantitative", "axis": null}}},
    {"data": {"values": [{}]}, "mark": {"type": "text", "text": ", |", "font": "DejaVu Sans", "fontSize": 40, "align": "left", "baseline": "alphabetic", "color": "black"},
     "encoding": {"x": {"datum": 8.1, "type": "quantitative", "axis": null}, "y": {"datum": 1.6009, "type": "quantitative", "axis": null}}},
    {"data": {"values": [{}]}, "mark": {"type": "text", "text": "y", "font": "DejaVu Sans", "fontStyle": "italic", "fontSize": 40, "align": "left", "baseline": "alphabetic", "color": "black"},
     "encoding": {"x": {"datum": 8.643, "type": "quantitative", "axis": null}, "y": {"datum": 1.6009, "type": "quantitative", "axis": null}}},
    {"data": {"values": [{}]}, "mark": {"type": "text", "text": "|<0.5", "font": "DejaVu Sans", "fontSize": 40, "align": "left", "baseline": "alphabetic", "color": "black"},
     "encoding": {"x": {"datum": 9.071, "type": "quantitative", "axis": null}, "y": {"datum": 1.6009, "type": "quantitative", "axis": null}}},
    {"data": {"values": [{}]}, "mark": {"type": "text", "text": "30-50% centrality", "font": "DejaVu Sans", "fontSize": 41, "align": "center", "baseline": "alphabetic", "color": "black"},
     "encoding": {"x": {"datum": 6.643, "type": "quantitative", "axis": null}, "y": {"datum": 1.4936, "type": "quantitative", "axis": null}}},
    {"data": {"values": [{}]}, "mark": {"type": "text", "text": "R", "font": "DejaVu Sans", "fontStyle": "italic", "fontSize": 70, "angle": 270, "align": "center", "baseline": "middle", "color": "black"},
     "encoding": {"x": {"datum": -2.0, "type": "quantitative", "axis": null}, "y": {"datum": 1.8748, "type": "quantitative", "axis": null}}},
    {"data": {"values": [{}]}, "mark": {"type": "text", "text": "AA", "font": "DejaVu Sans", "fontSize": 42, "angle": 270, "align": "center", "baseline": "middle", "color": "black"},
     "encoding": {"x": {"datum": -1.2857, "type": "quantitative", "axis": null}, "y": {"datum": 1.9503, "type": "quantitative", "axis": null}}},
    {"data": {"values": [{}]}, "mark": {"type": "text", "text": "p", "font": "DejaVu Sans", "fontStyle": "italic", "fontSize": 56, "align": "left", "baseline": "alphabetic", "color": "black"},
     "encoding": {"x": {"datum": 14.929, "type": "quantitative", "axis": null}, "y": {"datum": -0.1768, "type": "quantitative", "axis": null}}},
    {"data": {"values": [{}]}, "mark": {"type": "text", "text": "T", "font": "DejaVu Sans", "fontSize": 36, "align": "left", "baseline": "alphabetic", "color": "black"},
     "encoding": {"x": {"datum": 15.614, "type": "quantitative", "axis": null}, "y": {"datum": -0.234, "type": "quantitative", "axis": null}}},
    {"data": {"values": [{}]}, "mark": {"type": "text", "text": "(GeV/", "font": "DejaVu Sans", "fontSize": 57, "align": "left", "baseline": "alphabetic", "color": "black"},
     "encoding": {"x": {"datum": 16.471, "type": "quantitative", "axis": null}, "y": {"datum": -0.1768, "type": "quantitative", "axis": null}}},
    {"data": {"values": [{}]}, "mark": {"type": "text", "text": "c", "font": "DejaVu Sans", "fontStyle": "italic", "fontSize": 57, "align": "left", "baseline": "alphabetic", "color": "black"},
     "encoding": {"x": {"datum": 19.186, "type": "quantitative", "axis": null}, "y": {"datum": -0.1768, "type": "quantitative", "axis": null}}},
    {"data": {"values": [{}]}, "mark": {"type": "text", "text": ")", "font": "DejaVu Sans", "fontSize": 57, "align": "left", "baseline": "alphabetic", "color": "black"},
     "encoding": {"x": {"datum": 19.686, "type": "quantitative", "axis": null}, "y": {"datum": -0.1768, "type": "quantitative", "axis": null}}},
    {"data": {"values": [{}]}, "mark": {"type": "text", "text": "ALI-PREL-77088", "font": "Liberation Mono", "fontWeight": "bold", "fontSize": 33, "align": "left", "baseline": "alphabetic", "color": "#b4b4b4"},
     "encoding": {"x": {"datum": -2.514, "type": "quantitative", "axis": null}, "y": {"datum": -0.219, "type": "quantitative", "axis": null}}}
  ]
}
